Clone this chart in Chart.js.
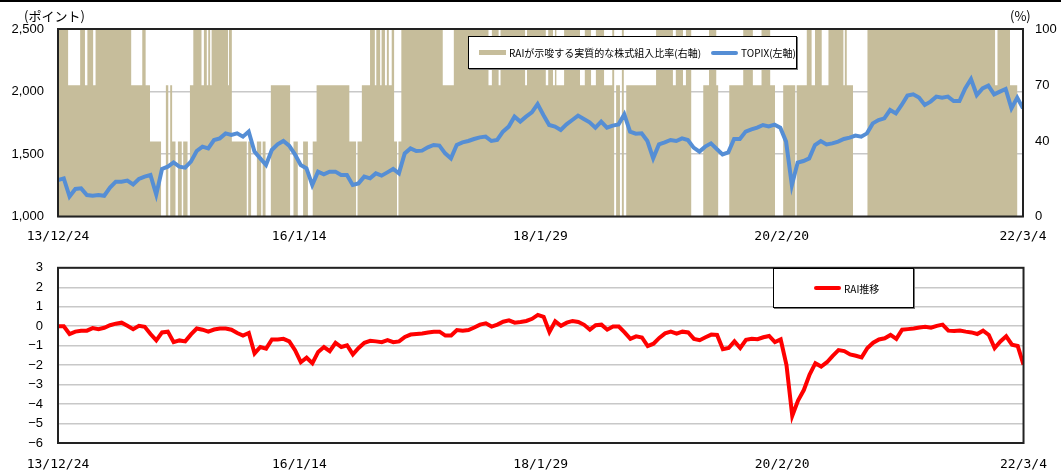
<!DOCTYPE html>
<html>
<head>
<meta charset="utf-8">
<script src="https://cdn.jsdelivr.net/npm/chart.js@4.4.1/dist/chart.umd.min.js"></script>
<style>
    body { margin: 0; background: #fff; width: 1061px; height: 470px; overflow: hidden; position: relative; font-family: "Noto Sans CJK JP", sans-serif; }
    #rule { position: absolute; left: 0; top: 0; width: 1061px; height: 2px; background: #000; }
    canvas { position: absolute; left: 0; }
    #topChart { top: 0; }
    #rairChart { top: 245px; }
    .unit { position: absolute; font-size: 13px; color: #000; line-height: 1; }
    .legend { position: absolute; background: #fff; border: 1px solid #000; box-shadow: 1px 1px 0 #777; display: flex; align-items: center; font-size: 10px; color: #000; box-sizing: border-box; }
    .legend .item { display: flex; align-items: center; }
    .legend .sw { display: inline-block; width: 27px; margin-right: 3px; }
</style>
</head>
<body>
<div id="rule"></div>
<canvas id="topChart" width="1061" height="245"></canvas>
<canvas id="rairChart" width="1061" height="225"></canvas>
<div class="unit" style="left:24px;top:9px;">(ポイント)</div>
<div class="unit" style="left:1010px;top:9px;">(%)</div>
<div class="legend" id="legendTop" style="left:468px;top:36px;width:329px;height:33px;padding-left:10px;"></div>
<div class="legend" id="legendRai" style="left:773px;top:268px;width:141px;height:40px;padding-left:40px;"></div>
<script>
// trading days from 13/12/24 to 22/3/4
var totalDays = 2004;
var sampleStep = 12;
var tickDays = [0, 501, 1002, 1503, 2004];
var tickDates = ["13/12/24", "16/1/14", "18/1/29", "20/2/20", "22/3/4"];

// TOPIX, one value every 12 trading days
var topix = [
    1292, 1305, 1160, 1220, 1225, 1172, 1166, 1172, 1166, 1231,
    1279, 1279, 1287, 1257, 1300, 1319, 1332, 1175, 1380, 1399,
    1433, 1399, 1391, 1439, 1524, 1559, 1545, 1612, 1625, 1665,
    1652, 1665, 1639, 1680, 1519, 1465, 1412, 1532, 1577, 1604,
    1567, 1497, 1412, 1385, 1252, 1359, 1337, 1359, 1359, 1332,
    1332, 1252, 1265, 1319, 1305, 1345, 1327, 1353, 1380, 1345,
    1505, 1545, 1524, 1527, 1553, 1572, 1567, 1505, 1465, 1572,
    1593, 1604, 1620, 1633, 1639, 1604, 1612, 1679, 1719, 1799,
    1759, 1799, 1833, 1900, 1812, 1732, 1719, 1692, 1737, 1772,
    1807, 1780, 1753, 1711, 1759, 1711, 1727, 1737, 1817, 1679,
    1663, 1665, 1604, 1465, 1577, 1593, 1612, 1604, 1625, 1612,
    1551, 1519, 1559, 1585, 1540, 1497, 1513, 1620, 1620, 1679,
    1697, 1711, 1732, 1721, 1735, 1711, 1599, 1250, 1431, 1444,
    1465, 1572, 1604, 1577, 1585, 1599, 1620, 1631, 1647, 1639,
    1665, 1745, 1772, 1785, 1852, 1825, 1892, 1967, 1977, 1951,
    1892, 1919, 1959, 1951, 1959, 1924, 1924, 2025, 2100, 1972,
    2025, 2047, 1977, 1999, 2020, 1865, 1951, 1865
];

// RAI, same sampling
var rai = [
    0.0, 0.0, -0.4, -0.28, -0.23, -0.23, -0.1, -0.15, -0.08, 0.05,
    0.13, 0.18, 0.02, -0.15, 0.02, -0.03, -0.4, -0.73, -0.32, -0.28,
    -0.82, -0.73, -0.78, -0.42, -0.12, -0.18, -0.28, -0.17, -0.12, -0.12,
    -0.18, -0.35, -0.48, -0.35, -1.4, -1.07, -1.15, -0.68, -0.68, -0.65,
    -0.78, -1.23, -1.85, -1.62, -1.9, -1.32, -1.07, -1.28, -0.85, -1.07,
    -0.98, -1.45, -1.12, -0.85, -0.75, -0.78, -0.82, -0.72, -0.82, -0.78,
    -0.55, -0.43, -0.4, -0.37, -0.32, -0.28, -0.28, -0.48, -0.48, -0.2,
    -0.23, -0.2, -0.07, 0.08, 0.15, -0.02, 0.08, 0.23, 0.3, 0.18,
    0.22, 0.27, 0.38, 0.58, 0.48, -0.3, 0.25, 0.02, 0.18, 0.27,
    0.22, 0.07, -0.18, 0.05, 0.08, -0.18, -0.02, -0.02, -0.32, -0.65,
    -0.52, -0.58, -1.02, -0.9, -0.6, -0.37, -0.28, -0.38, -0.28, -0.32,
    -0.65, -0.72, -0.57, -0.43, -0.45, -1.18, -1.12, -0.78, -1.12, -0.7,
    -0.65, -0.67, -0.57, -0.5, -0.82, -0.68, -2.0, -4.6, -3.82, -3.28,
    -2.48, -1.9, -2.07, -1.85, -1.52, -1.23, -1.28, -1.45, -1.52, -1.6,
    -1.12, -0.85, -0.68, -0.62, -0.45, -0.65, -0.18, -0.15, -0.12, -0.07,
    -0.03, -0.08, 0.02, 0.08, -0.23, -0.25, -0.22, -0.28, -0.32, -0.4,
    -0.23, -0.45, -1.12, -0.78, -0.52, -0.95, -1.02, -1.98
];

// equity weight implied by RAI (%), held from each start day to the next
var weightStart = [
    0, 21, 46, 56, 61, 73, 78, 152, 175, 182,
    191, 214, 224, 229, 233, 237, 244, 249, 257, 260,
    269, 274, 281, 298, 303, 309, 312, 316, 319, 353,
    355, 361, 392, 395, 401, 413, 422, 425, 431, 442,
    482, 489, 498, 509, 519, 529, 537, 605, 619, 622,
    631, 648, 658, 661, 669, 672, 679, 683, 687, 693,
    698, 704, 707, 713, 799, 822, 894, 901, 915, 919,
    970, 974, 1013, 1018, 1028, 1032, 1035, 1051, 1084, 1094,
    1107, 1117, 1134, 1151, 1155, 1159, 1167, 1171, 1175, 1180,
    1242, 1277, 1283, 1298, 1304, 1315, 1340, 1352, 1367, 1371,
    1394, 1423, 1443, 1461, 1479, 1489, 1506, 1531, 1534, 1555,
    1565, 1572, 1586, 1600, 1631, 1634, 1638, 1651, 1681, 1946,
    1951, 1977, 1992, 2004
];
var weightLevel = [
    100, 70, 100, 70, 100, 70, 100, 70, 100, 70,
    40, 0, 70, 0, 70, 40, 0, 40, 0, 40,
    0, 70, 100, 70, 100, 70, 100, 70, 100, 70,
    100, 40, 0, 40, 0, 40, 0, 40, 0, 70,
    0, 40, 0, 40, 0, 40, 70, 40, 0, 40,
    70, 100, 70, 100, 70, 100, 70, 100, 70, 100,
    40, 0, 40, 100, 70, 100, 70, 100, 70, 100,
    70, 100, 70, 100, 70, 100, 70, 100, 70, 100,
    70, 100, 70, 100, 0, 70, 0, 100, 0, 70,
    100, 70, 100, 70, 100, 0, 70, 100, 70, 0,
    70, 100, 70, 100, 70, 0, 70, 0, 70, 100,
    70, 100, 70, 100, 70, 100, 70, 0, 100, 70,
    100, 70, 0, 0
];

var sampled = function (values) {
    return values.map(function (v, i) { return {x: i * sampleStep, y: v}; });
};
var weightPoints = weightStart.map(function (d, i) { return {x: d, y: weightLevel[i]}; });

var monoFont = {family: "'DejaVu Sans Mono', monospace", size: 13};
var numFont = {family: "'Liberation Sans', Arial, sans-serif", size: 13};

var frame = {
    id: 'frame',
    afterDraw: function (chart) {
        var a = chart.chartArea, c = chart.ctx;
        c.save();
        c.strokeStyle = '#222';
        c.lineWidth = 2;
        c.strokeRect(a.left, a.top, a.right - a.left, a.bottom - a.top);
        c.restore();
    }
};

function dateAxis(height, pad) {
    return {
        type: 'linear', min: 0, max: totalDays,
        grid: {display: false, drawTicks: false}, border: {display: false},
        afterBuildTicks: function (axis) { axis.ticks = tickDays.map(function (d) { return {value: d}; }); },
        afterFit: function (axis) { axis.height = height; },
        ticks: {
            autoSkip: false, maxRotation: 0, color: '#000', font: monoFont, padding: pad,
            callback: function (v) { var i = tickDays.indexOf(v); return i < 0 ? '' : tickDates[i]; }
        }
    };
}

var topChart = new Chart(document.getElementById("topChart"), {
    type: 'line',
    data: {
        datasets: [{
            label: "TOPIX(左軸)",
            data: sampled(topix),
            yAxisID: 'y',
            borderColor: '#558ed5',
            borderWidth: 4,
            pointRadius: 0,
            tension: 0,
            order: 1
        }, {
            label: "RAIが示唆する実質的な株式組入比率(右軸)",
            data: weightPoints,
            yAxisID: 'y1',
            stepped: 'before',
            fill: 'origin',
            backgroundColor: '#c6bd9b',
            borderColor: 'rgba(0,0,0,0)',
            borderWidth: 0,
            pointRadius: 0,
            order: 2
        }]
    },
    options: {
        responsive: false,
        animation: false,
        layout: {padding: {top: 29, left: 0, right: 0, bottom: 0}},
        plugins: {legend: {display: false}, tooltip: {enabled: false}},
        scales: {
            x: dateAxis(28.5, 12),
            y: {
                position: 'left', min: 1000, max: 2500,
                afterFit: function (axis) { axis.width = 58; },
                grid: {color: '#c8c8c8', lineWidth: 1.5, drawTicks: false},
                border: {display: false},
                ticks: {
                    stepSize: 500, color: '#000', font: numFont, padding: 14,
                    callback: function (v) { return v.toLocaleString('en-US'); }
                }
            },
            y1: {
                position: 'right', min: 0, max: 100,
                afterBuildTicks: function (axis) { axis.ticks = [0, 40, 70, 100].map(function (v) { return {value: v}; }); },
                afterFit: function (axis) { axis.width = 38; },
                grid: {display: false, drawTicks: false},
                border: {display: false},
                ticks: {color: '#000', font: numFont, padding: 12}
            }
        }
    },
    plugins: [frame]
});

var raiChart = new Chart(document.getElementById("rairChart"), {
    type: 'line',
    data: {
        datasets: [{
            label: "RAI推移",
            data: sampled(rai),
            borderColor: '#ff0000',
            borderWidth: 4,
            pointRadius: 0,
            tension: 0
        }]
    },
    options: {
        responsive: false,
        animation: false,
        layout: {padding: {top: 19, left: 0, right: 35, bottom: 0}},
        plugins: {legend: {display: false}, tooltip: {enabled: false}},
        scales: {
            x: dateAxis(27, 14),
            y: {
                min: -6, max: 3,
                afterFit: function (axis) { axis.width = 58; },
                grid: {color: '#c8c8c8', lineWidth: 1.5, drawTicks: false},
                border: {display: false},
                ticks: {
                    stepSize: 1, color: '#000', font: numFont, padding: 15,
                    callback: function (v) { return String(v).replace('-', '\u2212'); }
                }
            }
        }
    },
    plugins: [frame]
});

// html legends built from the dataset labels
function buildLegend(el, chart, order) {
    order.forEach(function (idx, n) {
        var ds = chart.data.datasets[idx];
        var item = document.createElement('span');
        item.className = 'item';
        if (n > 0) item.style.marginLeft = '10px';
        var sw = document.createElement('span');
        sw.className = 'sw';
        if (ds.fill) {
            sw.style.height = '5px';
            sw.style.background = ds.backgroundColor;
        } else {
            sw.style.height = '4px';
            sw.style.borderRadius = '2px';
            sw.style.background = ds.borderColor;
        }
        item.appendChild(sw);
        item.appendChild(document.createTextNode(ds.label));
        el.appendChild(item);
    });
}
buildLegend(document.getElementById('legendTop'), topChart, [1, 0]);
buildLegend(document.getElementById('legendRai'), raiChart, [0]);
</script>
</body>
</html>
